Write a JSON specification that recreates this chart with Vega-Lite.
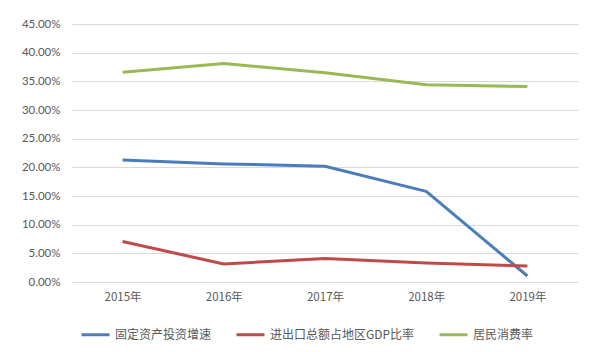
{
  "$schema": "https://vega.github.io/schema/vega-lite/v6.json",
  "width": 506,
  "height": 258,
  "autosize": "none",
  "padding": {"left": 72, "top": 24, "right": 33, "bottom": 70},
  "background": "white",
  "config": {
    "view": {"stroke": null},
    "font": "Noto Sans CJK SC"
  },
  "data": {
    "values": [
      {"year": "2015年", "series": "固定资产投资增速", "value": 0.213},
      {"year": "2016年", "series": "固定资产投资增速", "value": 0.206},
      {"year": "2017年", "series": "固定资产投资增速", "value": 0.202},
      {"year": "2018年", "series": "固定资产投资增速", "value": 0.158},
      {"year": "2019年", "series": "固定资产投资增速", "value": 0.0105},
      {"year": "2015年", "series": "进出口总额占地区GDP比率", "value": 0.0705},
      {"year": "2016年", "series": "进出口总额占地区GDP比率", "value": 0.0315},
      {"year": "2017年", "series": "进出口总额占地区GDP比率", "value": 0.041},
      {"year": "2018年", "series": "进出口总额占地区GDP比率", "value": 0.033},
      {"year": "2019年", "series": "进出口总额占地区GDP比率", "value": 0.028},
      {"year": "2015年", "series": "居民消费率", "value": 0.366},
      {"year": "2016年", "series": "居民消费率", "value": 0.381},
      {"year": "2017年", "series": "居民消费率", "value": 0.365},
      {"year": "2018年", "series": "居民消费率", "value": 0.344},
      {"year": "2019年", "series": "居民消费率", "value": 0.341}
    ]
  },
  "mark": {"type": "line", "strokeWidth": 3, "strokeCap": "butt", "strokeJoin": "round"},
  "encoding": {
    "x": {
      "field": "year",
      "type": "ordinal",
      "scale": {"type": "point", "padding": 0.5},
      "axis": {
        "title": null,
        "labelAngle": 0,
        "ticks": false,
        "domain": false,
        "labelPadding": 9,
        "labelFontSize": 11.5,
        "labelColor": "#595959",
        "labelFont": "Noto Sans CJK SC",
        "grid": false
      }
    },
    "y": {
      "field": "value",
      "type": "quantitative",
      "scale": {"domain": [0, 0.45]},
      "axis": {
        "title": null,
        "format": ".2%",
        "values": [0, 0.05, 0.1, 0.15, 0.2, 0.25, 0.3, 0.35, 0.4, 0.45],
        "ticks": false,
        "domain": false,
        "labelPadding": 12,
        "labelFontSize": 11.5,
        "labelColor": "#595959",
        "labelFont": "Lato",
        "gridColor": "#d9d9d9",
        "gridWidth": 1
      }
    },
    "color": {
      "field": "series",
      "type": "nominal",
      "scale": {
        "domain": ["固定资产投资增速", "进出口总额占地区GDP比率", "居民消费率"],
        "range": ["#4a7ebb", "#be4b48", "#98b954"]
      },
      "legend": {
        "title": null,
        "orient": "none",
        "legendX": 8,
        "legendY": 295,
        "direction": "horizontal",
        "symbolType": "stroke",
        "symbolSize": 784,
        "symbolStrokeWidth": 3,
        "labelFontSize": 12,
        "labelColor": "#595959",
        "labelOffset": 4,
        "columnPadding": 18,
        "labelLimit": 300
      }
    }
  }
}
